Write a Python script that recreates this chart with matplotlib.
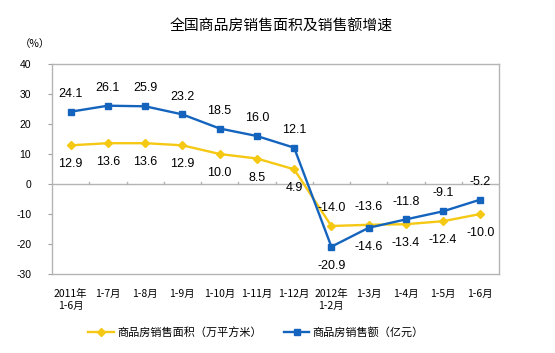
import matplotlib
matplotlib.use("Agg")
import matplotlib.pyplot as plt
import numpy as np

plt.rcParams['font.family'] = ['Noto Sans CJK SC', 'DejaVu Sans']

categories = ["2011年\n1-6月", "1-7月", "1-8月", "1-9月", "1-10月", "1-11月", "1-12月",
              "2012年\n1-2月", "1-3月", "1-4月", "1-5月", "1-6月"]
area_growth = [12.9, 13.6, 13.6, 12.9, 10.0, 8.5, 4.9, -14.0, -13.6, -13.4, -12.4, -10.0]
sales_growth = [24.1, 26.1, 25.9, 23.2, 18.5, 16.0, 12.1, -20.9, -14.6, -11.8, -9.1, -5.2]
area_name = "商品房销售面积（万平方米）"
sales_name = "商品房销售额（亿元）"
title = "全国商品房销售面积及销售额增速"
yticks = [40, 30, 20, 10, 0, -10, -20, -30]

yellow = "#F5C814"
blue = "#1464BE"

fig = plt.figure(figsize=(5.55, 3.53), dpi=100)
ax = fig.add_axes([52/555, 1-274/353, (499-52)/555, (274-64)/353])

x = np.arange(len(categories))
ax.plot(x, area_growth, color=yellow, lw=1.7, marker='D', ms=4.2, mec=yellow, mfc=yellow, label=area_name, zorder=3)
ax.plot(x, sales_growth, color=blue, lw=1.7, marker='s', ms=4, mec=blue, mfc=blue, label=sales_name, zorder=4)

ax.set_xlim(-0.5, len(categories) - 0.5)
ax.set_ylim(-30, 40)
ax.set_yticks(yticks)
ax.set_yticklabels([str(v) for v in yticks], fontsize=7.5, family=['Liberation Sans', 'DejaVu Sans'])
ax.tick_params(axis='y', length=3, color='#A0A0A0', pad=12)
ax.set_xticks([])

for s in ax.spines.values():
    s.set_color('#B4B4B4')
    s.set_linewidth(1)

# zero line with category separators
ax.axhline(0, color='#B4B4B4', lw=1, zorder=1)
for b in np.arange(0.5, len(categories) - 0.5, 1.0):
    ax.plot([b, b], [0, 0.8], color='#B4B4B4', lw=1, zorder=1)

# category labels
for i, c in enumerate(categories):
    ax.annotate(c, xy=(i, -30), xytext=(0, -10.5), textcoords='offset points',
                ha='center', va='top', fontsize=7.5, linespacing=1.25)

# data labels: higher series above, lower below
for i in x:
    a, s = area_growth[i], sales_growth[i]
    for v, higher in ((a, a > s), (s, s >= a)):
        off = 8.5 if higher else -9.5
        ax.annotate(f"{v:.1f}", xy=(i, v), xytext=(0, off), textcoords='offset points',
                    ha='center', va='bottom' if higher else 'top', fontsize=9,
                    family=['Liberation Sans', 'DejaVu Sans'])

fig.text(281.5/555, 1 - 27/353, title, ha='center', va='center', fontsize=10.7)
fig.text(35/555, 1 - 44/353, "（%）", ha='center', va='center', fontsize=7.5)

leg = fig.legend(loc='center', bbox_to_anchor=(256/555, 1 - 332/353), ncol=2, frameon=False,
                 fontsize=8.0, handlelength=2.3, columnspacing=2.0, handletextpad=0.3)

fig.savefig("out.png", dpi=100)
